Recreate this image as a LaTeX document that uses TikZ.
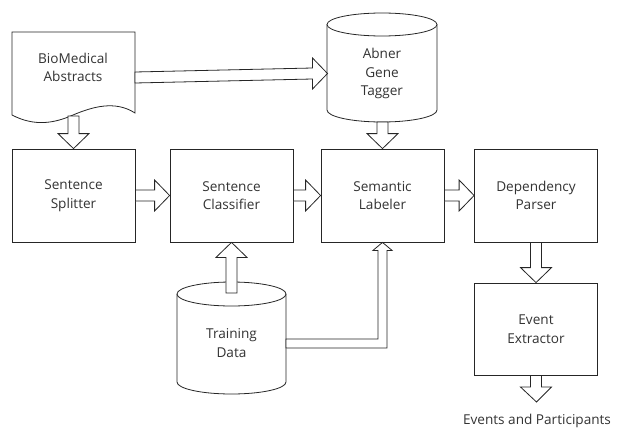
\documentclass[tikz,border=0pt]{standalone}
\usepackage{fontspec}
\setmainfont{Open Sans}
\usetikzlibrary{calc}

\tikzset{
  outline/.style={draw=black!85, line width=0.8pt, fill=white},
  box/.style={outline, minimum width=123pt, minimum height=93pt, inner sep=0pt,
    align=center, text=black!80, font=\fontsize{13.6}{18.5}\selectfont},
  label/.style={inner sep=0pt, align=center, text=black!80,
    font=\fontsize{13.6}{18.5}\selectfont},
  blk/.style={outline, line join=miter},
}

% block arrow pointing right: shaft from #1, tip at #2
\newcommand\blockR[2]{\draw[blk] let \p1=#1, \p2=#2 in
  (\x1,\y1+5.5pt) -- (\x2-15pt,\y2+5.5pt) -- (\x2-15pt,\y2+15.5pt) -- (\x2,\y2)
  -- (\x2-15pt,\y2-15.5pt) -- (\x2-15pt,\y2-5.5pt) -- (\x1,\y1-5.5pt) -- cycle;}
% block arrow pointing down
\newcommand\blockD[2]{\draw[blk] let \p1=#1, \p2=#2 in
  (\x1-5.5pt,\y1) -- (\x1-5.5pt,\y2+15pt) -- (\x1-15.5pt,\y2+15pt) -- (\x2,\y2)
  -- (\x1+15.5pt,\y2+15pt) -- (\x1+5.5pt,\y2+15pt) -- (\x1+5.5pt,\y1) -- cycle;}
% block arrow pointing up
\newcommand\blockU[2]{\draw[blk] let \p1=#1, \p2=#2 in
  (\x1-5.5pt,\y1) -- (\x1-5.5pt,\y2-15pt) -- (\x1-15.5pt,\y2-15pt) -- (\x2,\y2)
  -- (\x1+15.5pt,\y2-15pt) -- (\x1+5.5pt,\y2-15pt) -- (\x1+5.5pt,\y1) -- cycle;}

\begin{document}
\begin{tikzpicture}[x=1pt, y=-1pt]
\useasboundingbox (0,0) rectangle (617,428);

% document shape: BioMedical Abstracts
\draw[outline] (12,32) -- (135,32) -- (135,113)
  .. controls (115,100) and (92,107) .. (73,115)
  .. controls (55,123) and (35,127) .. (12,115) -- cycle;
\node[label] (bio) at (73,67.5) {BioMedical\\Abstracts};
\coordinate (bioR) at (135,77.5);
\coordinate (bioB) at (73.5,116);

% cylinder: Abner Gene Tagger
\draw[outline] (327,24.5) -- (327,110) arc[start angle=180, end angle=360, x radius=55pt, y radius=12pt]
  -- (437,24.5);
\draw[outline] (382,24.5) ellipse[x radius=55pt, y radius=11.5pt];
\node[label] (abner) at (382,73.5) {Abner\\Gene\\Tagger};
\coordinate (abnerL) at (327.5,73.5);
\coordinate (abnerB) at (382.5,122);

% cylinder: Training Data
\draw[outline] (177,294) -- (177,382) arc[start angle=180, end angle=360, x radius=54.5pt, y radius=12pt]
  -- (286,294);
\draw[outline] (231.5,294) ellipse[x radius=54.5pt, y radius=12pt];
\node[label] (train) at (231.5,343) {Training\\Data};
\coordinate (trainT) at (231.5,293);
\coordinate (trainR) at (286,343.5);

% processing stages
\node[box] (split) at (73.5,195.5) {Sentence\\Splitter};
\node[box] (class) at (231.5,195.5) {Sentence\\Classifier};
\node[box] (sem)   at (382.5,195.5) {Semantic\\Labeler};
\node[box] (dep)   at (536,195.5) {Dependency\\Parser};
\node[box, minimum height=92pt] (event) at (536,329) {Event\\Extractor};
\coordinate (out) at (536.5,402);
\node[label] (result) at (537,421) {Events and Participants};

% block arrows
\blockR{(bioR)}{(abnerL)}
\blockD{(bioB)}{(split.north)}
\blockD{(abnerB)}{(sem.north)}
\blockR{(split.east)}{(class.west)}
\blockR{(class.east)}{(sem.west)}
\blockR{(sem.east)}{(dep.west)}
\blockD{(dep.south)}{(event.north)}
\blockD{(event.south)}{(out)}
\blockU{(trainT)}{(class.south)}

% elbow arrow from Training Data up to Semantic Labeler
\draw[blk] let \p1=(trainR), \p2=(sem.south) in
  (\x1,\y1+4.5pt) -- (\x2-4.5pt,\y1+4.5pt) -- (\x2-4.5pt,\y2-8pt) -- (\x2-9.5pt,\y2-8pt)
  -- (\x2,\y2) -- (\x2+9.5pt,\y2-8pt) -- (\x2+4.5pt,\y2-8pt) -- (\x2+4.5pt,\y1-4.5pt)
  -- (\x1,\y1-4.5pt) -- cycle;
\end{tikzpicture}
\end{document}
